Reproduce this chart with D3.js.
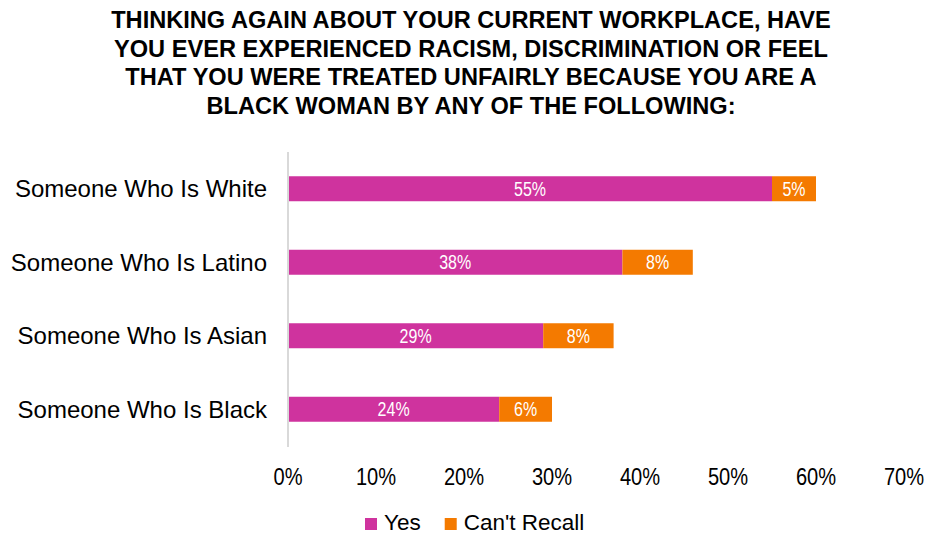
<!DOCTYPE html>
<html>
<head>
<meta charset="utf-8">
<script src="https://cdn.jsdelivr.net/npm/d3@7/dist/d3.min.js"></script>
<style>
  html, body { margin: 0; padding: 0; background: #ffffff; }
  svg { display: block; font-family: "Liberation Sans", Arial, sans-serif; }
</style>
</head>
<body>
<svg id="chart" width="926" height="535"></svg>
<script>
// Survey answers, percent of respondents
const categories = ["Someone Who Is White", "Someone Who Is Latino", "Someone Who Is Asian", "Someone Who Is Black"];
const yesValues = [55, 38, 29, 24];
const cantRecallValues = [5, 8, 8, 6];
const seriesNames = ["Yes", "Can't Recall"];
const xTicks = [0, 10, 20, 30, 40, 50, 60, 70];
const titleLines = [
  "THINKING AGAIN ABOUT YOUR CURRENT WORKPLACE, HAVE",
  "YOU EVER EXPERIENCED RACISM, DISCRIMINATION OR FEEL",
  "THAT YOU WERE TREATED UNFAIRLY BECAUSE YOU ARE A",
  "BLACK WOMAN BY ANY OF THE FOLLOWING:"
];

const colors = { "Yes": "#CF339E", "Can't Recall": "#F47A00" };
const NARROW = 0.82; // horizontal squeeze for the condensed labels

const svg = d3.select("#chart");

const rows = categories.map((c, i) => ({
  category: c,
  "Yes": yesValues[i],
  "Can't Recall": cantRecallValues[i]
}));

const x = d3.scaleLinear().domain([0, 70]).range([288, 904]);
const y = d3.scaleBand().domain(categories).range([152, 446])
  .paddingInner(0.66).paddingOuter(0.33);

// Title
svg.append("g").selectAll("text").data(titleLines).join("text")
  .attr("x", 471)
  .attr("y", (d, i) => 28 + i * 28.6)
  .attr("text-anchor", "middle")
  .attr("font-size", 23.6)
  .attr("font-weight", "bold")
  .attr("fill", "#000")
  .text(d => d);

// Stacked bars
const stack = d3.stack().keys(seriesNames);
const layers = stack(rows);

const layerG = svg.append("g").selectAll("g").data(layers).join("g")
  .attr("fill", d => colors[d.key]);

layerG.selectAll("rect").data(d => d).join("rect")
  .attr("x", d => x(d[0]))
  .attr("y", d => y(d.data.category))
  .attr("width", d => x(d[1]) - x(d[0]))
  .attr("height", y.bandwidth());

// Value labels inside the segments
layerG.selectAll("text").data(d => d.map(s => ({ s, key: d.key }))).join("text")
  .attr("transform", d => `translate(${(x(d.s[0]) + x(d.s[1])) / 2},${y(d.s.data.category) + y.bandwidth() / 2 + 7}) scale(${NARROW},1)`)
  .attr("text-anchor", "middle")
  .attr("font-size", 19.5)
  .attr("fill", "#ffffff")
  .text(d => d.s.data[d.key] + "%");

// Vertical category axis line
svg.append("line")
  .attr("x1", x(0)).attr("x2", x(0))
  .attr("y1", 152).attr("y2", 447)
  .attr("stroke", "#d9d9d9")
  .attr("stroke-width", 2);

// Category labels
svg.append("g").selectAll("text").data(categories).join("text")
  .attr("x", 267)
  .attr("y", d => y(d) + y.bandwidth() / 2 + 8.5)
  .attr("text-anchor", "end")
  .attr("font-size", 24)
  .attr("fill", "#000")
  .text(d => d);

// Value axis tick labels
svg.append("g").selectAll("text").data(xTicks).join("text")
  .attr("transform", d => `translate(${x(d)},485) scale(${NARROW},1)`)
  .attr("text-anchor", "middle")
  .attr("font-size", 24.5)
  .attr("fill", "#000")
  .text(d => d + "%");

// Legend
const legend = svg.append("g");
let lx = 365;
seriesNames.forEach((name) => {
  legend.append("rect")
    .attr("x", lx).attr("y", 518)
    .attr("width", 12).attr("height", 12)
    .attr("fill", colors[name]);
  const t = legend.append("text")
    .attr("x", lx + 19)
    .attr("y", 530)
    .attr("font-size", 22.5)
    .attr("fill", "#000")
    .text(name);
  lx += 19 + t.node().getComputedTextLength() + 24;
});
</script>
</body>
</html>
